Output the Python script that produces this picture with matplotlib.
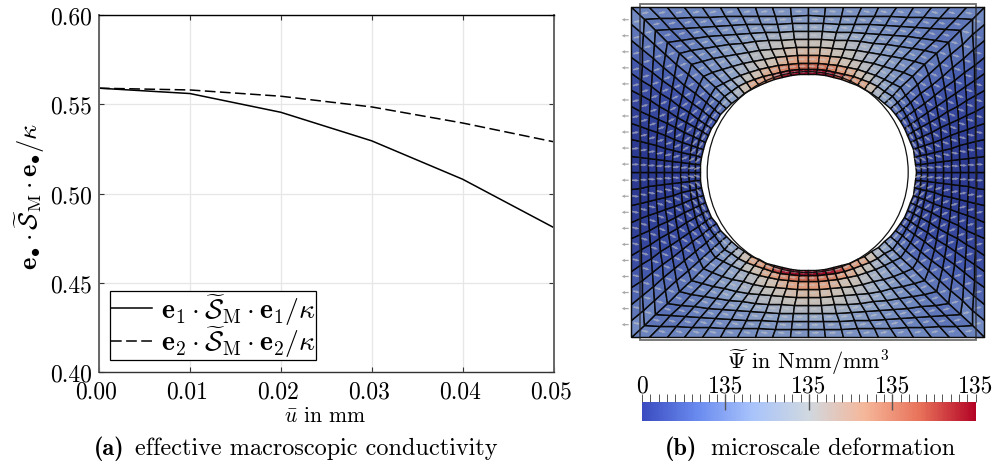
import numpy as np
from matplotlib import pyplot as plt
from matplotlib import cm
from matplotlib.colors import LinearSegmentedColormap, Normalize
from matplotlib.patches import Ellipse, Rectangle
from matplotlib.ticker import MultipleLocator
from matplotlib.transforms import ScaledTranslation

plt.rcParams['font.family'] = ['cmr10', 'DejaVu Sans']
plt.rcParams['mathtext.fontset'] = 'cm'
plt.rcParams['axes.unicode_minus'] = False
plt.rcParams['axes.formatter.use_mathtext'] = True

# panel (a)
u_bar = [0.00, 0.01, 0.02, 0.03, 0.04, 0.05]
cond_e1 = [0.559, 0.556, 0.5455, 0.5295, 0.508, 0.481]
cond_e2 = [0.559, 0.558, 0.5545, 0.5485, 0.5395, 0.529]
x_ticks = [0.00, 0.01, 0.02, 0.03, 0.04, 0.05]
y_ticks = [0.40, 0.45, 0.50, 0.55, 0.60]

# panel (b), cell energy (0-1 on the colour bar), rows inner -> outer layer,
# columns from the middle of a side towards the corner
energy_top = [
    [1.00, 1.00, 0.98, 0.92, 0.82, 0.76, 0.72, 0.60, 0.44, 0.36],
    [0.88, 0.86, 0.82, 0.76, 0.70, 0.62, 0.52, 0.42, 0.36, 0.30],
    [0.76, 0.74, 0.68, 0.62, 0.56, 0.48, 0.42, 0.36, 0.30, 0.26],
    [0.66, 0.64, 0.58, 0.52, 0.47, 0.42, 0.37, 0.32, 0.27, 0.24],
    [0.56, 0.54, 0.50, 0.46, 0.42, 0.37, 0.33, 0.28, 0.25, 0.22],
    [0.46, 0.45, 0.42, 0.38, 0.35, 0.32, 0.28, 0.25, 0.22, 0.20],
    [0.38, 0.37, 0.35, 0.33, 0.30, 0.28, 0.25, 0.23, 0.20, 0.19],
    [0.33, 0.32, 0.31, 0.30, 0.28, 0.26, 0.24, 0.22, 0.20, 0.20],
    [0.30, 0.30, 0.29, 0.28, 0.27, 0.26, 0.25, 0.24, 0.23, 0.24],
]
energy_side = [
    [0.03, 0.03, 0.04, 0.05, 0.07, 0.09, 0.11, 0.14, 0.20, 0.30],
    [0.02, 0.03, 0.03, 0.04, 0.06, 0.08, 0.11, 0.14, 0.18, 0.24],
    [0.02, 0.02, 0.03, 0.04, 0.05, 0.07, 0.10, 0.13, 0.17, 0.22],
    [0.01, 0.02, 0.02, 0.03, 0.05, 0.07, 0.10, 0.13, 0.17, 0.21],
    [0.01, 0.01, 0.02, 0.03, 0.05, 0.07, 0.10, 0.13, 0.17, 0.20],
    [0.01, 0.01, 0.02, 0.03, 0.05, 0.07, 0.10, 0.14, 0.17, 0.20],
    [0.00, 0.01, 0.01, 0.03, 0.05, 0.08, 0.11, 0.14, 0.18, 0.21],
    [0.00, 0.00, 0.01, 0.03, 0.05, 0.08, 0.12, 0.16, 0.20, 0.24],
    [0.00, 0.00, 0.01, 0.03, 0.05, 0.08, 0.12, 0.16, 0.20, 0.26],
]
layer_pos = [0, 8.2, 16, 24, 32, 40, 48, 56, 62, 67]  # distance from outer edge
bar_labels = ['0', '135', '135', '135', '135']
bar_colors = ['#3b4cc0', '#6a8bef', '#a9c4fb', '#d0d8e0', '#f5b79a', '#e8725a', '#b40426']
mesh_colors = ['#2c3a92', '#4459ad', '#7088c0', '#93a7c8', '#bcbcbc', '#d0bfb0', '#e0a080',
               '#cf6a50', '#9a0a28']

W, H = 995, 464


def px_axes(fig, x0, y0, x1, y1):
    '''axes from pixel box, y counted from the top'''
    return fig.add_axes([x0/W, 1-y1/H, (x1-x0)/W, (y1-y0)/H])


def px_text(fig, x, y, s, ha='center', **kw):
    fig.text(x/W, 1-y/H, s, ha=ha, va='center', **kw)


def make_sector(s, t, outer, inner):
    '''straight lines from outer edge points to points on the hole'''
    ox, oy = outer
    ix, iy = inner
    tt = t[:, None]
    return ox*(1-tt) + ix*tt, oy*(1-tt) + iy*tt


def plot_conductivity(fig):
    ax = px_axes(fig, 99, 16, 553.5, 373)
    ax.plot(u_bar, cond_e1, color='k', lw=1.1,
            label=r'$\mathbf{e}_1\cdot\widetilde{\mathcal{S}}_{\mathrm{M}}\cdot\mathbf{e}_1/\kappa$')
    ax.plot(u_bar, cond_e2, color='k', lw=1.1, dashes=(7, 2.9),
            label=r'$\mathbf{e}_2\cdot\widetilde{\mathcal{S}}_{\mathrm{M}}\cdot\mathbf{e}_2/\kappa$')
    ax.set_xlim(0, 0.05)
    ax.set_ylim(0.40, 0.60)
    ax.set_xticks(x_ticks, [f'{v:.2f}' for v in x_ticks])
    ax.set_yticks(y_ticks, [f'{v:.2f}' for v in y_ticks])
    ax.grid(color='#e6e6e6', lw=0.9)
    ax.set_axisbelow(True)
    ax.tick_params(direction='in', top=True, right=True, length=3.5, width=0.8,
                   color='#333333', labelsize=17, pad=5)
    ax.tick_params(axis='x', pad=6)
    shift = ScaledTranslation(-2.5/100, 0, fig.dpi_scale_trans)
    for lab in ax.get_xticklabels():
        lab.set_transform(lab.get_transform() + shift)
    ax.spines['left'].set(color='#666666', lw=1.4)
    ax.spines['right'].set(color='#666666', lw=1.4)
    ax.spines['top'].set(color='k', lw=1.0)
    ax.spines['bottom'].set(color='#333333', lw=1.0)
    leg = ax.legend(loc='lower left', bbox_to_anchor=(11/454.5, 12/357), fontsize=20,
                    fancybox=False, framealpha=1, edgecolor='k', borderaxespad=0,
                    handlelength=1.5, handletextpad=0.3, labelspacing=-0.1,
                    borderpad=0.02)
    leg.get_frame().set_linewidth(0.9)
    px_text(fig, 325, 416, r'$\bar{u}$ in mm', fontsize=15.5)
    px_text(fig, 30, 196, r'$\mathbf{e}_{\bullet}\cdot\widetilde{\mathcal{S}}_{\mathrm{M}}\cdot\mathbf{e}_{\bullet}/\kappa$',
            fontsize=19, rotation=90)
    px_text(fig, 94, 449, '(a)', ha='left', fontsize=17.5, family='cmb10')
    px_text(fig, 135, 449, 'effective macroscopic conductivity', ha='left', fontsize=17.5)


def plot_mesh(fig, face_cmap):
    cx, cy = 807.7, 173.1
    ax = px_axes(fig, 618, 0, 992, 346)
    ax.set_xlim(618-cx, 992-cx)
    ax.set_ylim(cy-346, cy)
    ax.axis('off')
    hw, hh = 176.3, 164.8  # deformed outer half sizes
    a, b = 108.0, 98.0     # deformed hole half axes
    s = np.linspace(-1, 1, 21)
    t = np.array(layer_pos)/layer_pos[-1]
    sin_s, cos_s = np.sin(s*np.pi/4), np.cos(s*np.pi/4)

    top = np.array(energy_top)[::-1]
    side = np.array(energy_side)[::-1]
    top = np.hstack([top[:, ::-1], top])
    side = np.hstack([side[:, ::-1], side])
    for sign in (1, -1):
        sectors = [
            (top, make_sector(s, t, (hw*s, sign*hh*np.ones(21)), (a*sin_s, sign*b*cos_s))),
            (side, make_sector(s, t, (sign*hw*np.ones(21), hh*s), (sign*a*cos_s, b*sin_s))),
        ]
        for vals, (X, Y) in sectors:
            ax.pcolormesh(X, Y, vals, cmap=face_cmap, vmin=0, vmax=1, edgecolors='#0a0a0a',
                          linewidth=1.05, shading='flat', antialiased=True)
            # light flow glyphs in the cells
            mx = (X[:-1, :-1] + X[1:, 1:])/2
            my = (Y[:-1, :-1] + Y[1:, 1:])/2
            r2 = (mx**2 + my**2)/100.0**2
            th = np.arctan2(my, mx)
            vx = 1 - np.cos(2*th)/r2
            vy = -np.sin(2*th)/r2
            nrm = np.hypot(vx, vy) + 1e-9
            ax.quiver(mx, my, vx/nrm, vy/nrm, color='#c8c8c8', alpha=0.6, pivot='mid',
                      angles='xy', scale_units='xy', scale=1/7, width=1.6, units='dots',
                      headwidth=2, headlength=2.5, headaxislength=2.2, zorder=3)

    # undeformed outline and hole
    ax.add_patch(Rectangle((-167.7, -167.9), 335.6, 335.8, fill=False, ec='#222222',
                           alpha=0.65, lw=1.3, zorder=4))
    ax.add_patch(Ellipse((0, 0), 201, 201, fc='none', ec='#111111', lw=0.9, zorder=4))

    # load arrows on the left edge
    ay = cy - np.arange(20.7, 326, 16.05)
    ax.quiver(-179*np.ones(len(ay)), ay, -7*np.ones(len(ay)), np.zeros(len(ay)),
              color='#a8a8a8', angles='xy', scale_units='xy', scale=1, width=1.2, units='dots',
              headwidth=3, headlength=3, headaxislength=2.5, zorder=2)


def plot_colorbar(fig):
    cmap = LinearSegmentedColormap.from_list('bar', bar_colors)
    cax = px_axes(fig, 642, 403, 975.7, 421.7)
    cb = fig.colorbar(cm.ScalarMappable(Normalize(0, 4), cmap), cax=cax, orientation='horizontal',
                      drawedges=False)
    cb.outline.set_visible(False)
    cb.set_ticks(range(5), labels=bar_labels)
    cax.xaxis.set_ticks_position('top')
    cax.xaxis.set_minor_locator(MultipleLocator(0.1))
    cax.xaxis.remove_overlapping_locs = False
    cax.tick_params(axis='x', which='minor', direction='out', length=5.8, width=0.7, color='#555555')
    cax.tick_params(axis='x', which='major', direction='inout', length=11.5, width=1.0, color='#555555',
                    labelsize=17, pad=-2)
    majors = cax.xaxis.get_major_ticks()
    for tk in (majors[0], majors[-1]):
        tk.tick1line.set_visible(False)
        tk.tick2line.set_visible(False)
    px_text(fig, 808, 362, r'$\widetilde{\mathit{\Psi}}$ in Nmm/mm$^3$', fontsize=16)
    px_text(fig, 665, 449, '(b)', ha='left', fontsize=17.5, family='cmb10')
    px_text(fig, 711, 449, 'microscale deformation', ha='left', fontsize=17.5)


if __name__ == '__main__':
    fig = plt.figure(figsize=(W/100, H/100), dpi=100)
    mesh_cmap = LinearSegmentedColormap.from_list('mesh', mesh_colors)
    plot_conductivity(fig)
    plot_mesh(fig, mesh_cmap)
    plot_colorbar(fig)
    fig.savefig('out.png', dpi=100)
